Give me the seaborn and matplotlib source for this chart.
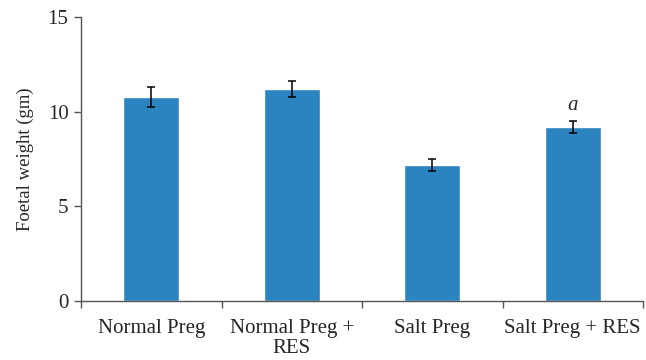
import matplotlib
matplotlib.use("Agg")
import matplotlib.pyplot as plt
import seaborn as sns
import pandas as pd
from matplotlib.ticker import FixedLocator

groups = ["Normal Preg", "Normal Preg +\nRES", "Salt Preg", "Salt Preg + RES"]
weights = [10.78, 11.2, 7.18, 9.19]
errors = [0.53, 0.42, 0.32, 0.32]
annotations = ["", "", "", "a"]

sns.set_theme(style="white")
plt.rcParams["font.family"] = ["Liberation Serif", "DejaVu Serif"]

df = pd.DataFrame({"group": groups, "weight": weights})

fig = plt.figure(figsize=(6.46, 3.6), dpi=100)
ax = fig.add_axes([81/646, 59/360, 562/646, 284/360])

sns.barplot(data=df, x="group", y="weight", color="#2b83c0", saturation=1,
            width=0.4, errorbar=None, ax=ax)
ax.errorbar(range(len(groups)), weights, yerr=errors, fmt="none",
            ecolor="black", elinewidth=1.1, capsize=3, capthick=1.1)

for i, (w, e, t) in enumerate(zip(weights, errors, annotations)):
    if t:
        ax.text(i, w + e + 0.3, t, ha="center", va="bottom",
                fontsize=15, style="italic")

ax.set_xlim(-0.5, len(groups) - 0.5)
ax.set_ylim(0, 15)
ax.set_yticks([0, 5, 10, 15])
ax.set_xlabel("")
ax.set_ylabel("Foetal weight (gm)", fontsize=13.5, labelpad=10)

ax.set_xticks(range(len(groups)))
ax.set_xticklabels(groups, fontsize=15, linespacing=1.05)
ax.xaxis.set_minor_locator(FixedLocator([k - 0.5 for k in range(len(groups) + 1)]))
ax.tick_params(axis="x", which="major", length=0, pad=13)
ax.tick_params(axis="x", which="minor", length=5, width=1, color="#555555", bottom=True)
ax.tick_params(axis="y", length=5, width=1, color="#555555", labelsize=15, left=True, pad=4)

for side in ["top", "right"]:
    ax.spines[side].set_visible(False)
for side in ["left", "bottom"]:
    ax.spines[side].set_color("#555555")
    ax.spines[side].set_linewidth(1)

fig.savefig("out.png", dpi=100)
